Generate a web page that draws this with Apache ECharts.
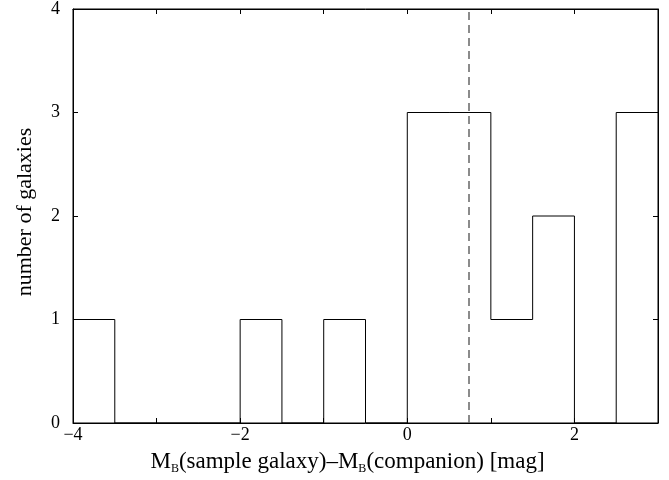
<!DOCTYPE html>
<html><head><meta charset="utf-8">
<script src="https://cdn.jsdelivr.net/npm/echarts@6/dist/echarts.min.js"></script>
<style>html,body{margin:0;padding:0;background:#fff}#c{width:669px;height:480px}</style>
</head><body><div id="c"></div>
<script>
var binEdges = [-4,-3.5,-3,-2.5,-2,-1.5,-1,-0.5,0,0.5,1,1.5,2,2.5,3];
var counts = [1,0,0,0,1,0,1,0,3,3,1,2,0,3];
var xTickLabels = [-4,-2,0,2];
var yTicks = [0,1,2,3,4];
var meanLine = 0.73;

var stepData = [];
for (var i = 0; i < counts.length; i++) stepData.push([binEdges[i], counts[i]]);
stepData.push([binEdges[binEdges.length-1], counts[counts.length-1]]);

var font = 'Liberation Serif';
function fmt(v){ return xTickLabels.indexOf(v) >= 0 ? String(v).replace('-', '\u2212') : ''; }
var chart = echarts.init(document.getElementById('c'));
chart.setOption({
  animation: false,
  grid: {left: 73, right: 11, top: 8, bottom: 55, show: true, borderColor: '#000', borderWidth: 1},
  xAxis: [{
    type: 'value', min: -4, max: 3, interval: 1,
    axisLine: {onZero: false, lineStyle: {color: '#000'}},
    axisTick: {inside: true, length: 5, lineStyle: {color: '#000'}},
    axisLabel: {formatter: fmt, color: '#000', fontFamily: font, fontSize: 18, margin: 3},
    splitLine: {show: false},
    name: '{m|M}{s|B}(sample galaxy)\u2013{m|M}{s|B}(companion) [mag]',
    nameLocation: 'middle', nameGap: 26,
    nameTextStyle: {color: '#000', fontFamily: font, fontSize: 23, padding: [0, 36, 0, 0],
      rich: {m: {fontFamily: font, fontSize: 23, color: '#000'},
             s: {fontFamily: font, fontSize: 12, color: '#000', verticalAlign: 'bottom', padding: [14,0,0,0]}}}
  }, {
    type: 'value', position: 'top', min: -4, max: 3, interval: 1,
    axisLine: {onZero: false, lineStyle: {color: '#000'}},
    axisTick: {inside: true, length: 5, lineStyle: {color: '#000'}},
    axisLabel: {show: false}, splitLine: {show: false}
  }],
  yAxis: [{
    type: 'value', min: 0, max: 4, interval: 1,
    axisLine: {show: true, onZero: false, lineStyle: {color: '#000'}},
    axisTick: {show: true, inside: true, length: 5, lineStyle: {color: '#000'}},
    axisLabel: {color: '#000', fontFamily: font, fontSize: 18, margin: 13,
      formatter: function(v){ return yTicks.indexOf(v) >= 0 ? String(v) : ''; }},
    splitLine: {show: false},
    name: 'number of galaxies', nameLocation: 'middle', nameGap: 37, nameRotate: 90,
    nameTextStyle: {color: '#000', fontFamily: font, fontSize: 22, padding: [0, 0, 0, 8]}
  }, {
    type: 'value', position: 'right', min: 0, max: 4, interval: 1,
    axisLine: {show: true, onZero: false, lineStyle: {color: '#000'}},
    axisTick: {show: true, inside: true, length: 5, lineStyle: {color: '#000'}},
    axisLabel: {show: false}, splitLine: {show: false}
  }],
  series: [{
    type: 'line', step: 'end', data: stepData, symbol: 'none',
    lineStyle: {color: '#000', width: 1},
    markLine: {
      silent: true, symbol: 'none', label: {show: false},
      lineStyle: {color: '#666', type: [8, 5], width: 1.5},
      data: [{xAxis: meanLine}]
    }
  }]
});
</script></body></html>
